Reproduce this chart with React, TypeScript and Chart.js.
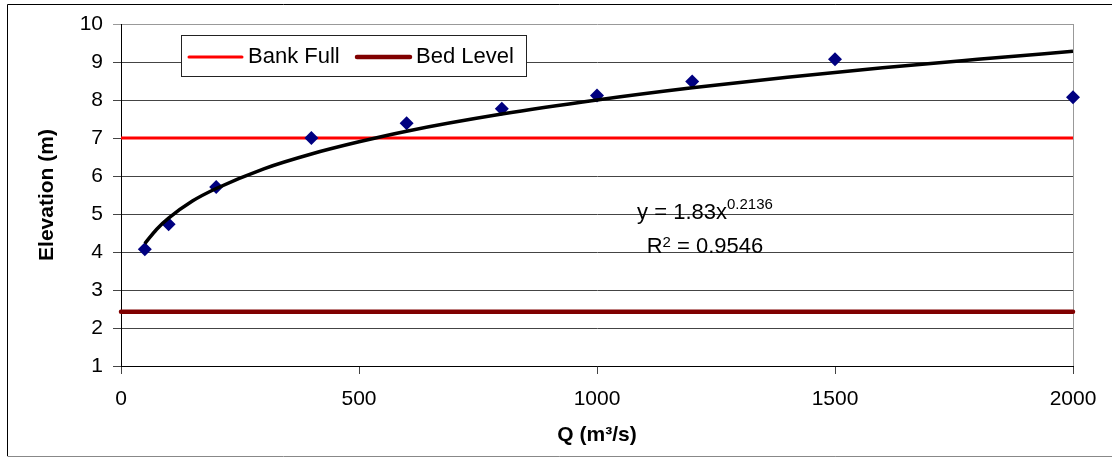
import React, { useEffect, useRef } from 'react';
import { Chart, registerables } from 'chart.js';

Chart.register(...registerables);

const FONT = '"Liberation Sans", Arial, Helvetica, sans-serif';

// Observed rating points
const discharge = [50, 100, 200, 400, 600, 800, 1000, 1200, 1500, 2000];
const elevation = [4.07, 4.73, 5.71, 7.0, 7.39, 7.77, 8.12, 8.49, 9.07, 8.07];

// Power trendline as drawn on the chart
const trendDischarge = [50, 75, 100, 150, 200, 300, 400, 500, 600, 800, 1000, 1200, 1400, 1600, 1800, 2000];
const trendElevation = [4.22, 4.6, 4.89, 5.34, 5.67, 6.19, 6.58, 6.9, 7.18, 7.63, 8.0, 8.32, 8.6, 8.85, 9.07, 9.28];

// Reference levels
const levelRange = [0, 2000];
const bankFullLevel = 7;
const bedLevel = 2.43;

// Axis ranges / labels
const xMin = 0, xMax = 2000, xStep = 500;
const yMin = 1, yMax = 10, yStep = 1;
const xTitle = 'Q (m³/s)';
const yTitle = 'Elevation (m)';
const eqMain = 'y = 1.83x';
const eqExp = '0.2136';
const r2Base = 'R';
const r2Exp = '2';
const r2Rest = ' = 0.9546';

const decorations = {
  id: 'decorations',
  beforeDatasetsDraw(chart: any) {
    const { ctx, chartArea } = chart;
    ctx.save();
    ctx.strokeStyle = '#999';
    ctx.lineWidth = 1;
    const x = Math.round(chartArea.right) + 0.5;
    ctx.beginPath();
    ctx.moveTo(x, chartArea.top);
    ctx.lineTo(x, chartArea.bottom);
    ctx.stroke();
    ctx.restore();
  },
  afterDraw(chart: any) {
    const { ctx, width, height } = chart;
    ctx.save();
    // outer frame
    ctx.lineWidth = 1;
    ctx.strokeStyle = '#000';
    ctx.beginPath();
    ctx.moveTo(7.5, height - 1);
    ctx.lineTo(7.5, 4.5);
    ctx.lineTo(width, 4.5);
    ctx.stroke();
    ctx.strokeStyle = '#888';
    ctx.beginPath();
    ctx.moveTo(7.5, height - 0.5);
    ctx.lineTo(width, height - 0.5);
    ctx.stroke();

    // legend
    const lx = 181.5, ly = 35.5, lw = 345, lh = 41;
    ctx.fillStyle = '#fff';
    ctx.fillRect(lx, ly, lw, lh);
    ctx.strokeStyle = '#222';
    ctx.strokeRect(lx, ly, lw, lh);
    const items = chart.data.datasets.filter((d: any) => d.inLegend);
    const swatchX = [189, 357];
    const textX = [248, 416];
    const cy = 57;
    ctx.font = `22px ${FONT}`;
    ctx.textBaseline = 'middle';
    ctx.textAlign = 'left';
    items.forEach((d: any, i: number) => {
      ctx.strokeStyle = d.borderColor;
      ctx.lineWidth = d.borderWidth;
      ctx.lineCap = 'round';
      ctx.beginPath();
      ctx.moveTo(swatchX[i], cy);
      ctx.lineTo(swatchX[i] + 53, cy);
      ctx.stroke();
      ctx.fillStyle = '#000';
      ctx.fillText(d.label, textX[i], cy);
    });

    // trendline equation
    ctx.textBaseline = 'alphabetic';
    ctx.fillStyle = '#000';
    const big = `22px ${FONT}`;
    const small = `15px ${FONT}`;
    const centerX = 705;
    ctx.font = big;
    const w1 = ctx.measureText(eqMain).width;
    ctx.font = small;
    const w2 = ctx.measureText(eqExp).width;
    let x0 = centerX - (w1 + w2) / 2;
    ctx.font = big;
    ctx.fillText(eqMain, x0, 219);
    ctx.font = small;
    ctx.fillText(eqExp, x0 + w1, 209);

    ctx.font = big;
    const r1 = ctx.measureText(r2Base).width;
    const r3 = ctx.measureText(r2Rest).width;
    ctx.font = small;
    const r2 = ctx.measureText(r2Exp).width;
    x0 = centerX - (r1 + r2 + r3) / 2;
    ctx.font = big;
    ctx.fillText(r2Base, x0, 253);
    ctx.font = small;
    ctx.fillText(r2Exp, x0 + r1, 247);
    ctx.font = big;
    ctx.fillText(r2Rest, x0 + r1 + r2, 253);
    ctx.restore();
  },
};

export default function App() {
  const ref = useRef<HTMLCanvasElement | null>(null);

  useEffect(() => {
    if (!ref.current) return;
    const chart = new Chart(ref.current, {
      type: 'scatter',
      data: {
        datasets: [
          {
            label: 'Trend',
            type: 'line',
            data: trendDischarge.map((q, i) => ({ x: q, y: trendElevation[i] })),
            borderColor: '#000',
            borderWidth: 3.5,
            pointRadius: 0,
            cubicInterpolationMode: 'monotone',
            fill: false,
            order: 0,
          } as any,
          {
            label: 'Observed',
            data: discharge.map((q, i) => ({ x: q, y: elevation[i] })),
            pointStyle: 'rectRot',
            pointRadius: 7,
            pointBackgroundColor: '#000080',
            pointBorderColor: '#000080',
            pointBorderWidth: 0,
            showLine: false,
            clip: false,
            order: 1,
          } as any,
          {
            label: 'Bank Full',
            inLegend: true,
            type: 'line',
            data: levelRange.map((q) => ({ x: q, y: bankFullLevel })),
            borderColor: '#ff0000',
            borderWidth: 3,
            pointRadius: 0,
            fill: false,
            order: 2,
          } as any,
          {
            label: 'Bed Level',
            inLegend: true,
            type: 'line',
            data: levelRange.map((q) => ({ x: q, y: bedLevel })),
            borderColor: '#800000',
            borderWidth: 4.5,
            borderCapStyle: 'round',
            pointRadius: 0,
            fill: false,
            clip: false,
            order: 3,
          } as any,
        ],
      },
      options: {
        animation: false,
        responsive: false,
        devicePixelRatio: 1,
        layout: { padding: { top: 24, right: 39, left: 0, bottom: 0 } },
        plugins: {
          legend: { display: false },
          tooltip: { enabled: false },
        },
        scales: {
          x: {
            type: 'linear',
            min: xMin,
            max: xMax,
            afterFit: (s: any) => { s.height = 91; },
            ticks: {
              stepSize: xStep,
              padding: 13,
              color: '#000',
              font: { family: FONT, size: 21 },
              maxRotation: 0,
              callback: (v: any) => String(v),
            },
            grid: { drawOnChartArea: false, tickLength: 8, color: '#444' },
            border: { color: '#000' },
            title: {
              display: true,
              text: xTitle,
              color: '#000',
              font: { family: FONT, size: 21, weight: 'bold' },
              padding: { top: 0, bottom: 9 },
            },
          },
          y: {
            min: yMin,
            max: yMax,
            afterFit: (s: any) => { s.width = 121; },
            ticks: {
              stepSize: yStep,
              padding: 10,
              color: '#000',
              font: { family: FONT, size: 21 },
              callback: (v: any) => String(v),
            },
            grid: {
              tickLength: 8,
              color: (c: any) => (c.tick && c.tick.value === yMax ? '#999' : '#444'),
            },
            border: { color: '#000' },
            title: {
              display: true,
              text: yTitle,
              color: '#000',
              font: { family: FONT, size: 21, weight: 'bold' },
              padding: { top: 35, bottom: 0 },
            },
          },
        },
      },
      plugins: [decorations],
    } as any);
    return () => chart.destroy();
  }, []);

  return (
    <div style={{ position: 'fixed', left: 0, top: 0, width: 1112, height: 457, background: '#fff' }}>
      <canvas ref={ref} width={1112} height={457} style={{ width: 1112, height: 457, display: 'block' }} />
    </div>
  );
}
